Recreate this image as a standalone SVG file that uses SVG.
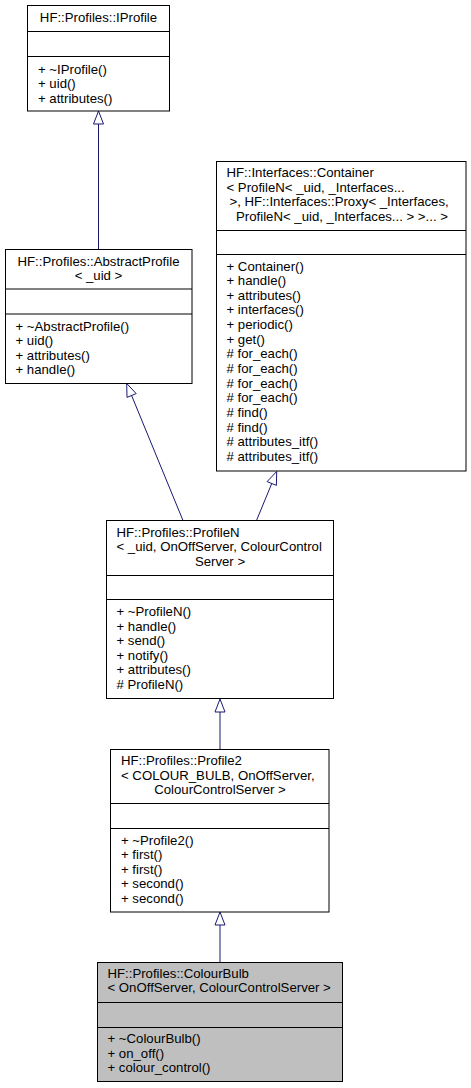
<svg xmlns="http://www.w3.org/2000/svg" width="471" height="1088" viewBox="0 0 471 1088">
<style>
  .box { fill: #ffffff; stroke: #000000; stroke-width: 1; }
  .cur { fill: #bfbfbf; stroke: #000000; stroke-width: 1; }
  .div { stroke: #000000; stroke-width: 1; }
  text { font-family: "Liberation Sans", Arial, sans-serif; font-size: 13.2px; fill: #000000; }
  .c { text-anchor: middle; }
  .edge { stroke: #191970; stroke-width: 1; fill: none; }
  .head { fill: #ffffff; stroke: #191970; stroke-width: 1; }
</style>
<rect width="471" height="1088" fill="#ffffff"/>

<g id="connectors">
  <line class="edge" x1="98.5" y1="124" x2="98.5" y2="249.5"/>
  <polygon class="head" points="98.5,111 103.5,124 93.5,124"/>

  <line class="edge" x1="183" y1="520.5" x2="131.6" y2="395.5"/>
  <polygon class="head" points="126.7,383.5 136.2,393.6 127,397.4"/>

  <line class="edge" x1="256.5" y1="520.5" x2="271.75" y2="483.5"/>
  <polygon class="head" points="276.7,471.5 276.4,485.4 267.1,481.6"/>

  <line class="edge" x1="220" y1="712" x2="220" y2="749.5"/>
  <polygon class="head" points="220,699 225,712 215,712"/>

  <line class="edge" x1="220" y1="925" x2="220" y2="962.5"/>
  <polygon class="head" points="220,912 225,925 215,925"/>
</g>

<g id="node-IProfile">
  <rect class="box" x="27.5" y="5.5" width="142" height="105.5"/>
  <line class="div" x1="27.5" y1="31.5" x2="169.5" y2="31.5"/>
  <line class="div" x1="27.5" y1="56.5" x2="169.5" y2="56.5"/>
  <text class="c" x="98.5" y="21.5">HF::Profiles::IProfile</text>
  <text x="38" y="73.5">+ ~IProfile()</text>
  <text x="38" y="88.1">+ uid()</text>
  <text x="38" y="102.7">+ attributes()</text>
</g>

<g id="node-AbstractProfile">
  <rect class="box" x="5.5" y="249.5" width="186.5" height="134"/>
  <line class="div" x1="5.5" y1="289" x2="192" y2="289"/>
  <line class="div" x1="5.5" y1="314" x2="192" y2="314"/>
  <text class="c" x="98.5" y="265.5">HF::Profiles::AbstractProfile</text>
  <text class="c" x="98.5" y="280.1">&lt; _uid &gt;</text>
  <text x="15.5" y="330.5">+ ~AbstractProfile()</text>
  <text x="15.5" y="345.1">+ uid()</text>
  <text x="15.5" y="359.7">+ attributes()</text>
  <text x="15.5" y="374.3">+ handle()</text>
</g>

<g id="node-Container">
  <rect class="box" x="216.5" y="161.5" width="249.5" height="309.5"/>
  <line class="div" x1="216.5" y1="230.5" x2="466" y2="230.5"/>
  <line class="div" x1="216.5" y1="254.5" x2="466" y2="254.5"/>
  <text x="226.5" y="177">HF::Interfaces::Container</text>
  <text x="226.5" y="191.6">&lt; ProfileN&lt; _uid, _Interfaces...</text>
  <text x="229.5" y="206.2">&gt;, HF::Interfaces::Proxy&lt; _Interfaces,</text>
  <text class="c" x="342" y="220.8">ProfileN&lt; _uid, _Interfaces... &gt; &gt;... &gt;</text>
  <text x="226.5" y="270.5">+ Container()</text>
  <text x="226.5" y="285.15">+ handle()</text>
  <text x="226.5" y="299.8">+ attributes()</text>
  <text x="226.5" y="314.45">+ interfaces()</text>
  <text x="226.5" y="329.1">+ periodic()</text>
  <text x="226.5" y="343.75">+ get()</text>
  <text x="226.5" y="358.4"># for_each()</text>
  <text x="226.5" y="373.05"># for_each()</text>
  <text x="226.5" y="387.7"># for_each()</text>
  <text x="226.5" y="402.35"># for_each()</text>
  <text x="226.5" y="417"># find()</text>
  <text x="226.5" y="431.65"># find()</text>
  <text x="226.5" y="446.3"># attributes_itf()</text>
  <text x="226.5" y="460.95"># attributes_itf()</text>
</g>

<g id="node-ProfileN">
  <rect class="box" x="106.5" y="520.5" width="227" height="178"/>
  <line class="div" x1="106.5" y1="575.5" x2="333.5" y2="575.5"/>
  <line class="div" x1="106.5" y1="599.5" x2="333.5" y2="599.5"/>
  <text x="116.5" y="536.5">HF::Profiles::ProfileN</text>
  <text x="116.5" y="551">&lt; _uid, OnOffServer, ColourControl</text>
  <text class="c" x="220" y="565.5">Server &gt;</text>
  <text x="116.5" y="616">+ ~ProfileN()</text>
  <text x="116.5" y="630.6">+ handle()</text>
  <text x="116.5" y="645.2">+ send()</text>
  <text x="116.5" y="659.8">+ notify()</text>
  <text x="116.5" y="674.4">+ attributes()</text>
  <text x="116.5" y="689"># ProfileN()</text>
</g>

<g id="node-Profile2">
  <rect class="box" x="110.5" y="749.5" width="218.5" height="162.5"/>
  <line class="div" x1="110.5" y1="803.5" x2="329" y2="803.5"/>
  <line class="div" x1="110.5" y1="828.5" x2="329" y2="828.5"/>
  <text x="121" y="765">HF::Profiles::Profile2</text>
  <text x="121" y="779.6">&lt; COLOUR_BULB, OnOffServer,</text>
  <text class="c" x="220" y="794.2">ColourControlServer &gt;</text>
  <text x="121" y="844.5">+ ~Profile2()</text>
  <text x="121" y="859.1">+ first()</text>
  <text x="121" y="873.7">+ first()</text>
  <text x="121" y="888.3">+ second()</text>
  <text x="121" y="902.9">+ second()</text>
</g>

<g id="node-ColourBulb">
  <rect class="cur" x="97.5" y="962.5" width="245" height="119"/>
  <line class="div" x1="97.5" y1="1002.5" x2="342.5" y2="1002.5"/>
  <line class="div" x1="97.5" y1="1027.5" x2="342.5" y2="1027.5"/>
  <text x="107.5" y="977.5">HF::Profiles::ColourBulb</text>
  <text x="107.5" y="992.1">&lt; OnOffServer, ColourControlServer &gt;</text>
  <text x="107.5" y="1043">+ ~ColourBulb()</text>
  <text x="107.5" y="1057.6">+ on_off()</text>
  <text x="107.5" y="1072.2">+ colour_control()</text>
</g>
</svg>
